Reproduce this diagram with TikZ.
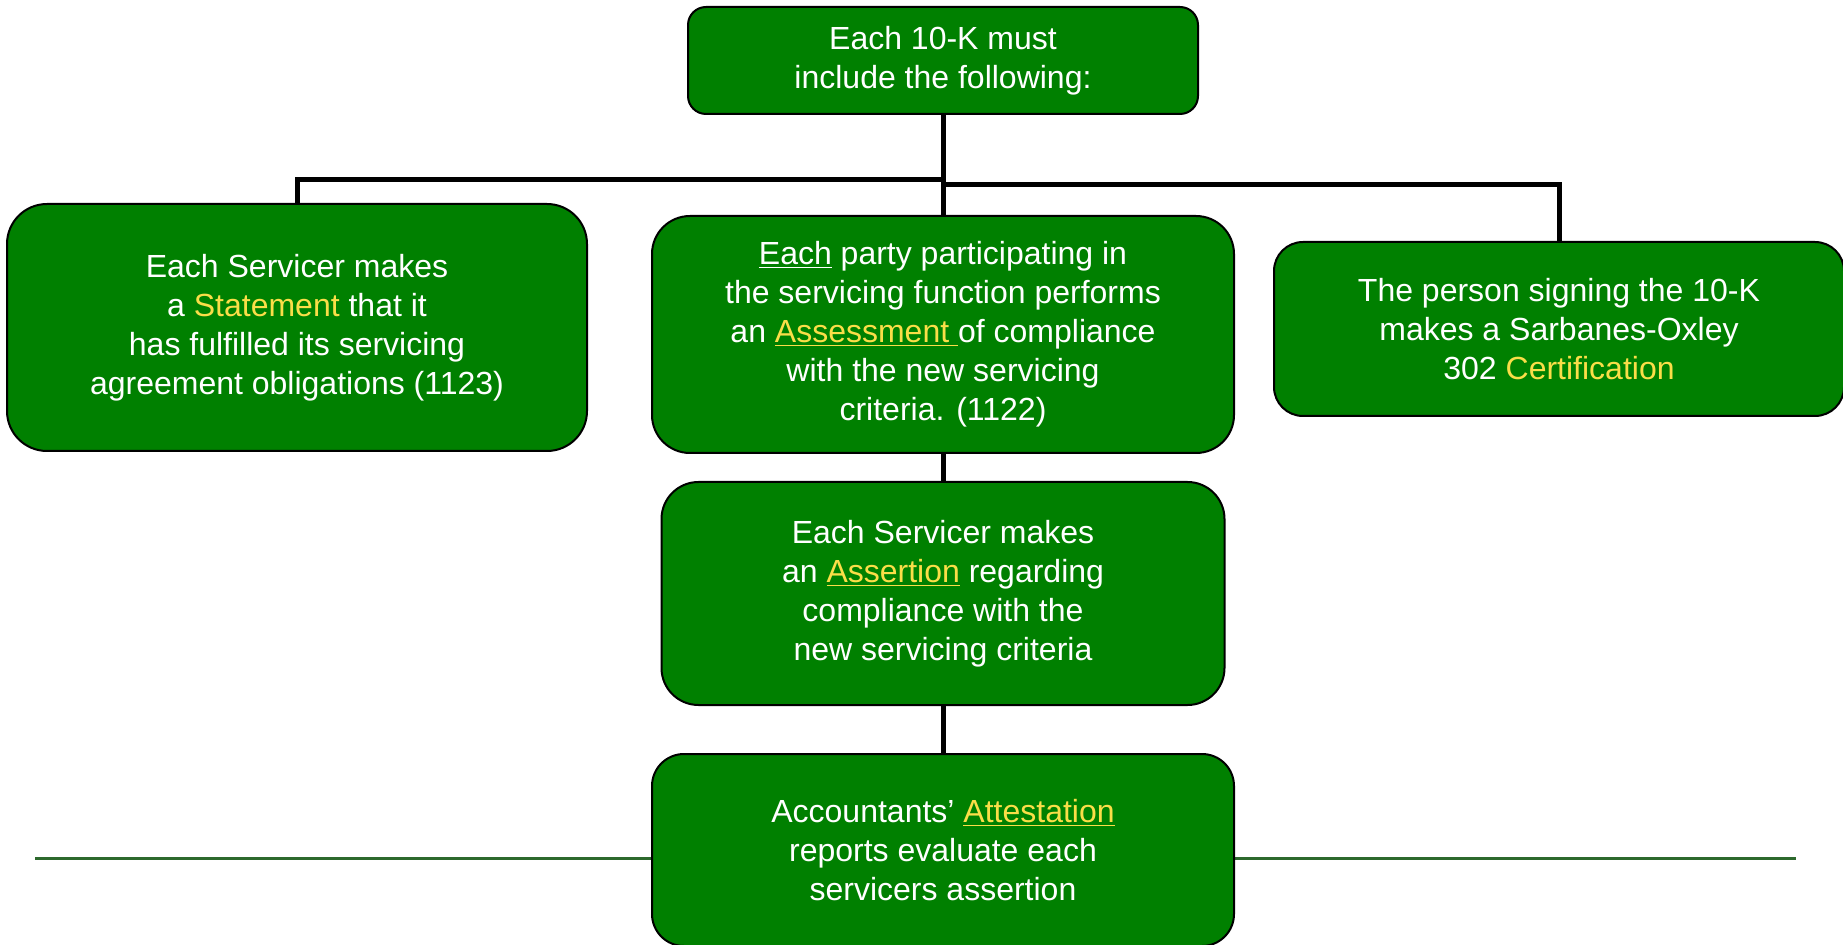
\documentclass[tikz,border=0pt]{standalone}
\usepackage{fontspec}
\setmainfont{Liberation Sans}
\usepackage{color}
\definecolor{mygreen}{RGB}{0,128,0}
\definecolor{myyellow}{RGB}{250,222,72}
\definecolor{myrule}{RGB}{45,105,45}
\usepackage{tikz}
\usetikzlibrary{calc,positioning}
\tikzstyle{box}=[draw=black,line width=1pt,fill=mygreen,text=white,align=center,inner sep=0pt,font=\fontsize{16}{19.5}\selectfont]
\newcommand{\hl}[1]{{\color{myyellow}#1}}

\begin{document}
\begin{tikzpicture}[x=0.5pt,y=0.5pt,link/.style={draw,line width=2.5pt}]
\useasboundingbox (0,0) rectangle (1843,944);
\draw [myrule, line width=1.5pt] (35,86) -- (1796,86);

\node [box, minimum width=255pt, minimum height=53.5pt, rounded corners=9pt] (top) at (943,883.5)
  {Each 10-K must\\include the following:};

\node [box, minimum width=291pt, minimum height=118.5pt, rounded corners=19pt] [below=50pt of top] (assess)
  {\underline{Each} party participating in\\the servicing function performs\\an \hl{\underline{Assessment\ }}of compliance\\with the new servicing\\criteria. (1122)};

\node [box, minimum width=290pt, minimum height=123.5pt, rounded corners=20pt] [left=31.5pt of assess, yshift=3.5pt] (stmt)
  {Each Servicer makes\\a \hl{Statement} that it\\has fulfilled its servicing\\agreement obligations (1123)};

\node [box, minimum width=285pt, minimum height=87pt, rounded corners=14.5pt] [right=19pt of assess, yshift=2.75pt] (cert)
  {The person signing the 10-K\\makes a Sarbanes-Oxley\\302 \hl{Certification}};

\node [box, minimum width=281.5pt, minimum height=111.5pt, rounded corners=18.5pt] [below=13.5pt of assess] (assert)
  {Each Servicer makes\\an \hl{\underline{Assertion}} regarding\\compliance with the\\new servicing criteria};

\node [box, minimum width=291pt, minimum height=96pt, rounded corners=16pt] [below=23.5pt of assert] (attest)
  {Accountants’ \hl{\underline{Attestation}}\\reports evaluate each\\servicers assertion};

% branches
\coordinate (jl) at ($(top.south)+(0,-32.5pt)$);
\coordinate (jr) at ($(top.south)+(0,-35pt)$);
\draw [link] (top.south) -- (assess.north);
\draw [link] (stmt.north) |- (jl);
\draw [link] (cert.north) |- (jr);
\draw [link] (assess.south) -- (assert.north);
\draw [link] (assert.south) -- (attest.north);
\end{tikzpicture}
\end{document}
